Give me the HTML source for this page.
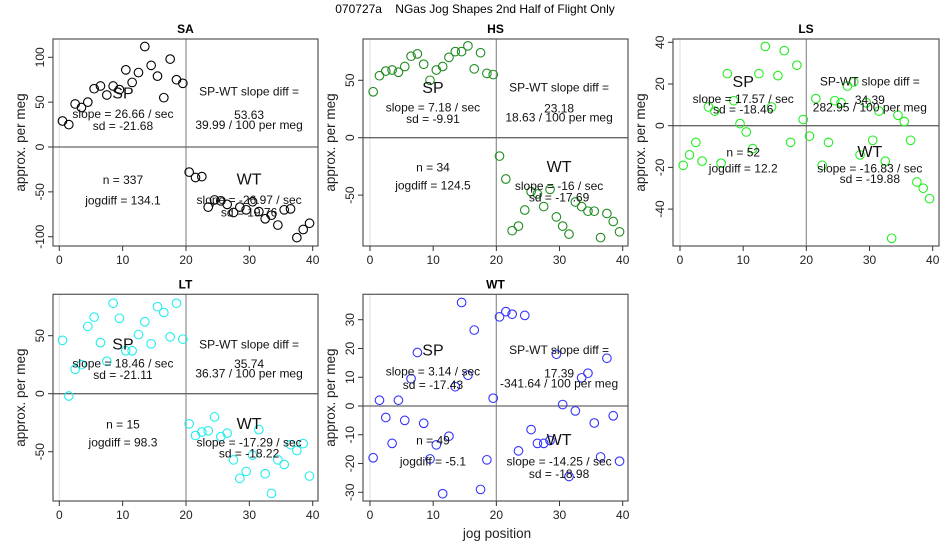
<!DOCTYPE html>
<html><head><meta charset="utf-8"><style>
body{margin:0;background:#fff;}
svg{display:block;font-family:"Liberation Sans",sans-serif;}
</style></head><body>
<svg id="chart" width="950" height="550">
<text x="475" y="13" text-anchor="middle" font-size="12" xml:space="preserve" style="white-space:pre">070727a    NGas Jog Shapes 2nd Half of Flight Only</text>
<text x="497" y="538" text-anchor="middle" font-size="13.5" fill="#222">jog position</text>
</svg>
<script>
const jogPositions = [0.5,1.5,2.5,3.5,4.5,5.5,6.5,7.5,8.5,9.5,10.5,11.5,12.5,13.5,14.5,15.5,16.5,17.5,18.5,19.5,20.5,21.5,22.5,23.5,24.5,25.5,26.5,27.5,28.5,29.5,30.5,31.5,32.5,33.5,34.5,35.5,36.5,37.5,38.5,39.5];
const saValues = [29,25,48,44,50,65,68,58,68,64,86,72,83,112,91,79,55,98,75,71,-28,-34,-33,-67,-59,-60,-64,-73,-67,-70,-61,-72,-80,-76,-87,-70,-69,-101,-92,-85];
const hsValues = [40,54,58,59,57,62,71,73,64,50,59,62,70,75,75,80,60,74,56,55,-16,-36,-81,-77,-63,-47,-49,-60,-45,-69,-77,-84,-56,-60,-64,-64,-87,-66,-73,-82];
const lsValues = [-19,-14,-8,-17,9,7,-18,25,12,1,-3,-11,25,38,9,24,36,-8,29,3,-5,13,-19,-8,12,11,19,21,-14,11,-7,7,-17,-54,5,2,-7,-27,-30,-35];
const ltValues = [46,-2,21,25,58,66,44,28,78,65,37,37,51,62,43,75,70,49,78,47,-26,-36,-33,-32,-20,-37,-34,-57,-73,-67,-53,-31,-69,-86,-57,-61,-44,-49,-43,-71];
const wtValues = [-18,2,-4,-13,2,-5,9.5,18.6,-6,-18.4,-13.5,-30.5,-10.5,6.7,36,10.7,26.4,-29,-18.7,2.7,31,32.8,31.9,-15.6,31.5,-8.2,-13,-13,-12,18,0.5,-24.5,-1.7,9.8,11.4,-5.9,-17.7,16.6,-3.4,-19.2];
const xTicks = [0,10,20,30,40];
const saYTicks = [-100,-50,0,50,100];
const hsYTicks = [-50,0,50];
const lsYTicks = [-40,-20,0,20,40];
const ltYTicks = [-50,0,50];
const wtYTicks = [-30,-20,-10,0,10,20,30];
const saStats = ["26.66","-21.68","53.63","39.99","337","134.1","-26.97","19.76"];
const hsStats = ["7.18","-9.91","23.18","18.63","34","124.5","-16","-17.69"];
const lsStats = ["17.57","-18.46","34.39","282.95","52","12.2","-16.83","-19.88"];
const ltStats = ["18.46","-21.11","35.74","36.37","15","98.3","-17.29","-18.22"];
const wtStats = ["3.14","-17.43","17.39","-341.64","49","-5.1","-14.25","-18.98"];

const NS="http://www.w3.org/2000/svg";
const svg=document.getElementById('chart');
function mk(tag,attrs,parent){const e=document.createElementNS(NS,tag);for(const k in attrs)e.setAttribute(k,attrs[k]);(parent||svg).appendChild(e);return e;}

const panels=[
 {name:'SA',vals:saValues,ticks:saYTicks,stats:saStats,color:'#000',
  box:[53,39,318,246],x0:59.3,x40:312.7,ya:[0,147],yb:[100,57.3],zy:20,
  ty:[222,282,318,215,285,315,480,542,480,540,578]},
 {name:'HS',vals:hsValues,ticks:hsYTicks,stats:hsStats,color:'#1f8b1f',
  box:[363,39,628,246],x0:370,x40:622.7,ya:[0,137.7],yb:[50,80.3],zy:20,
  ty:[205,262,297,203,265,292,443,497,443,498,533]},
 {name:'LS',vals:lsValues,ticks:lsYTicks,stats:lsStats,color:'#22ee22',
  box:[673,39,939,246],x0:680,x40:932.7,ya:[0,125.7],yb:[40,42.3],zy:20,
  ty:[187,237,268,185,240,263,398,445,397,445,477]},
 {name:'LT',vals:ltValues,ticks:ltYTicks,stats:ltStats,color:'#22eeee',
  box:[53,294.3,318,501],x0:59.3,x40:312.7,ya:[0,393.7],yb:[50,335.7],zy:270,
  ty:[225,280,315,223,282,310,463,518,463,518,550]},
 {name:'WT',vals:wtValues,ticks:wtYTicks,stats:wtStats,color:'#3333ff',
  box:[363,294.3,628,501],x0:370,x40:622.7,ya:[0,406],yb:[30,319.7],zy:270,
  ty:[243,305,345,240,310,340,512,575,512,575,612]}
];

panels.forEach(p=>{
  const key=p.name.toLowerCase();
  const xs=v=>p.x0+(p.x40-p.x0)*v/40;
  const ys=v=>p.ya[1]+(p.yb[1]-p.ya[1])*(v-p.ya[0])/(p.yb[0]-p.ya[0]);
  const g=mk('g',{});
  
  
  const [l,t,r,b]=p.box;
  const ttl=mk('text',{x:(l+r)/2,y:t-6,'text-anchor':'middle','font-size':12,'font-weight':'bold'},g);
  ttl.textContent=p.name;
  
  
  const v0=mk('line',{x1:xs(0),x2:xs(0),y1:t,y2:b,stroke:'#ddd','stroke-width':1},g);
  
  
  const v20=mk('line',{x1:xs(20),x2:xs(20),y1:t,y2:b,stroke:'#999','stroke-width':1.3},g);
  
  
  const h0=mk('line',{x1:l,x2:r,y1:ys(0),y2:ys(0),stroke:'#666','stroke-width':1.3},g);
  
  
  const bx=mk('rect',{x:l,y:t,width:r-l,height:b-t,fill:'none',stroke:'#555','stroke-width':1.2},g);
  
  
  xTicks.forEach(v=>{
    const tk=mk('line',{x1:xs(v),x2:xs(v),y1:b,y2:b+5,stroke:'#333'},g);
    
    
    const tl=mk('text',{x:xs(v),y:b+18,'text-anchor':'middle','font-size':12,fill:'#222'},g);
    tl.textContent=v;
    
    
  });
  p.ticks.forEach(v=>{
    const tk=mk('line',{x1:l-5,x2:l,y1:ys(v),y2:ys(v),stroke:'#333'},g);
    
    
    const tl=mk('text',{x:0,y:0,'text-anchor':'middle','font-size':12,fill:'#222',transform:`translate(${l-9},${ys(v)}) rotate(-90)`},g);
    tl.textContent=v;
    
    
  });
  const yl=mk('text',{x:0,y:0,'text-anchor':'middle','font-size':13.5,fill:'#222',transform:`translate(${l-28},${(t+b)/2}) rotate(-90)`},g);
  yl.textContent='approx. per meg';
  
  
  p.vals.forEach((v,i)=>{
    const c=mk('circle',{cx:xs(jogPositions[i]),cy:ys(v),r:4.3,fill:'none',stroke:p.color,'stroke-width':1.1},g);
    
    
  });
  const s=p.stats;
  const lines=[['SP',16,0],['slope = '+s[0]+' / sec',12,0],['sd = '+s[1],12,0],
    ['SP-WT slope diff =',12,1],[s[2],12,1],[s[3]+' / 100 per meg',12,1],
    ['n = '+s[4],12,0],['jogdiff = '+s[5],12,0],['WT',16,1],['slope = '+s[6]+' / sec',12,1],['sd = '+s[7],12,1]];
  const boxW=r-l;
  lines.forEach((ln,i)=>{
    const cx=l+boxW*(ln[2]?0.74:0.264);
    const cy=p.zy+p.ty[i]/3;
    const tx=mk('text',{x:cx,y:cy,'text-anchor':'middle','dominant-baseline':'central','font-size':ln[1],fill:'#111'},g);
    tx.textContent=ln[0];
    
    
  });
});
</script>
</body></html>
